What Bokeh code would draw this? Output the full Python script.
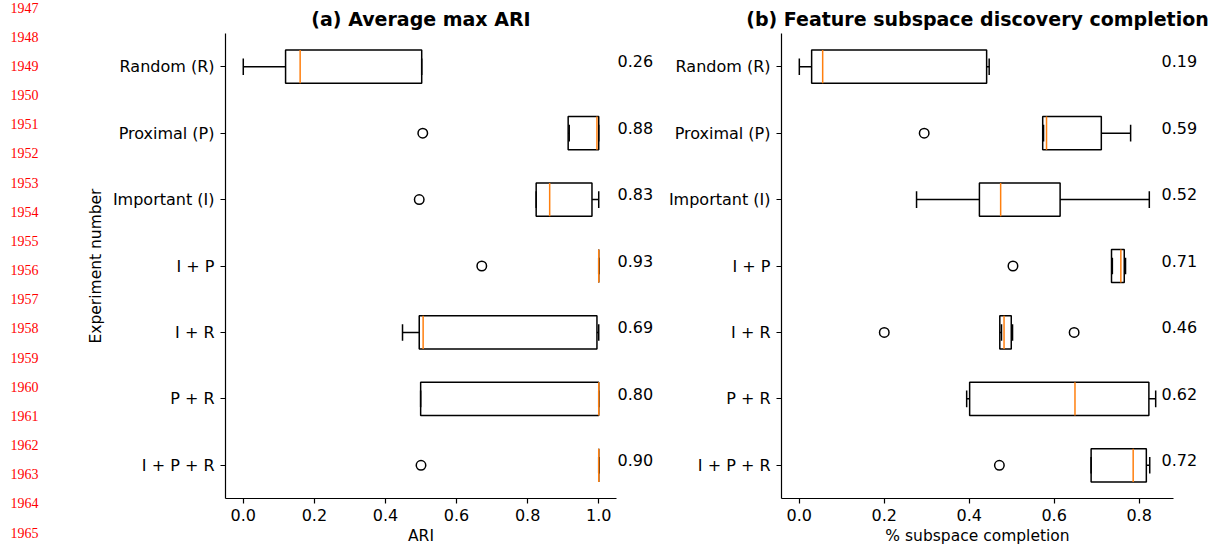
from bokeh.plotting import figure
from bokeh.layouts import row
from bokeh.models import Range1d, FixedTicker, PrintfTickFormatter, LinearAxis
from bokeh.embed import file_html
from bokeh.resources import INLINE
from bokeh.core.properties import value

experiments = ["Random (R)", "Proximal (P)", "Important (I)", "I + P", "I + R", "P + R", "I + P + R"]

# (a) Average max ARI: box-plot summary per experiment
ari_whislo = [0.0, 0.917, 0.824, 1.0, 0.448, 0.499, 1.0]
ari_q1 = [0.119, 0.914, 0.824, 1.0, 0.495, 0.499, 1.0]
ari_med = [0.160, 0.995, 0.862, 1.0, 0.506, 1.0, 1.0]
ari_q3 = [0.502, 1.0, 0.981, 1.0, 0.995, 1.0, 1.0]
ari_whishi = [0.502, 1.0, 1.0, 1.0, 1.0, 1.0, 1.0]
ari_flier_idx = [1, 2, 3, 6]
ari_flier_val = [0.505, 0.495, 0.671, 0.500]
ari_means = ["0.26", "0.88", "0.83", "0.93", "0.69", "0.80", "0.90"]

# (b) Feature subspace discovery completion
sub_whislo = [0.0, 0.575, 0.276, 0.737, 0.476, 0.394, 0.687]
sub_q1 = [0.029, 0.573, 0.424, 0.735, 0.472, 0.401, 0.687]
sub_med = [0.055, 0.582, 0.474, 0.757, 0.482, 0.649, 0.786]
sub_q3 = [0.441, 0.711, 0.614, 0.765, 0.499, 0.823, 0.817]
sub_whishi = [0.447, 0.780, 0.824, 0.768, 0.502, 0.839, 0.825]
sub_flier_idx = [1, 3, 4, 4, 6]
sub_flier_val = [0.294, 0.503, 0.200, 0.647, 0.471]
sub_means = ["0.19", "0.59", "0.52", "0.71", "0.46", "0.62", "0.72"]

ari_ticks = [0.0, 0.2, 0.4, 0.6, 0.8, 1.0]
sub_ticks = [0.0, 0.2, 0.4, 0.6, 0.8]

line_numbers = [str(n) for n in range(1947, 1966)]

FONT = "DejaVu Sans"
BOX_W = 0.5
TICK_FS = "16px"
LABEL_FS = "15.5px"


def style_axis(ax):
    ax.axis_line_color = "black"
    ax.axis_line_width = 1.2
    ax.major_tick_line_color = "black"
    ax.major_tick_line_width = 1.2
    ax.major_tick_out = 5
    ax.major_tick_in = 0
    ax.minor_tick_line_color = None
    ax.major_label_text_font = FONT
    ax.major_label_text_font_size = TICK_FS
    ax.major_label_text_color = "black"
    ax.axis_label_text_font = FONT
    ax.axis_label_text_font_size = LABEL_FS
    ax.axis_label_text_font_style = "normal"
    ax.axis_label_text_color = "black"
    ax.major_label_standoff = 5


def box_panel(title, xlabel, width, border_left, border_right, lo, q1, med, q3, hi,
              flier_idx, flier_val, means, mean_standoff, xticks, ylabel=None):
    n = len(experiments)
    ypos = [n - i for i in range(n)]
    vals = lo + hi + flier_val
    dmin, dmax = min(vals), max(vals)
    pad = 0.05 * (dmax - dmin)
    p = figure(width=width, height=547, output_backend="svg", toolbar_location=None,
               x_range=Range1d(dmin - pad, dmax + pad), y_range=Range1d(0.5, n + 0.5),
               min_border_left=border_left, min_border_right=border_right,
               min_border_top=33, min_border_bottom=49, title=title)
    p.outline_line_color = None
    p.background_fill_color = "white"
    p.border_fill_color = "white"
    p.xgrid.visible = False
    p.ygrid.visible = False

    p.title.text_font = FONT
    p.title.text_font_style = "bold"
    p.title.text_font_size = "19px"
    p.title.text_color = "black"
    p.title.align = "center"
    p.title.standoff = 8
    p.title.offset = 0

    style_axis(p.xaxis[0])
    style_axis(p.yaxis[0])

    p.xaxis.ticker = FixedTicker(ticks=xticks)
    p.xaxis.formatter = PrintfTickFormatter(format="%.1f")
    p.xaxis.axis_label = xlabel
    p.xaxis.axis_label_standoff = 3

    p.yaxis.ticker = FixedTicker(ticks=ypos)
    p.yaxis.major_label_overrides = {y: name for y, name in zip(ypos, experiments)}
    p.yaxis.major_label_standoff = 6
    if ylabel:
        p.yaxis.axis_label = ylabel
        p.yaxis.axis_label_standoff = 5

    # per-experiment summary values written beside the boxes (baseline on the box centre)
    shift = 0.08
    p.extra_y_ranges = {"means": Range1d(0.5 - shift, n + 0.5 - shift)}
    mean_axis = LinearAxis(y_range_name="means", ticker=FixedTicker(ticks=ypos),
                           major_label_overrides={y: m for y, m in zip(ypos, means)})
    style_axis(mean_axis)
    mean_axis.axis_line_color = None
    mean_axis.major_tick_line_color = None
    mean_axis.major_tick_out = 0
    mean_axis.major_label_standoff = mean_standoff
    p.add_layout(mean_axis, "right")

    half = BOX_W / 2
    cap = BOX_W / 4
    lw = 1.5
    # whiskers
    p.segment(x0=lo, y0=ypos, x1=q1, y1=ypos, line_color="black", line_width=lw)
    p.segment(x0=q3, y0=ypos, x1=hi, y1=ypos, line_color="black", line_width=lw)
    # caps
    p.segment(x0=lo, y0=[y - cap for y in ypos], x1=lo, y1=[y + cap for y in ypos],
              line_color="black", line_width=lw)
    p.segment(x0=hi, y0=[y - cap for y in ypos], x1=hi, y1=[y + cap for y in ypos],
              line_color="black", line_width=lw)
    # boxes
    p.quad(left=q1, right=q3, bottom=[y - half for y in ypos], top=[y + half for y in ypos],
           fill_color=None, line_color="black", line_width=lw)
    # medians
    p.segment(x0=med, y0=[y - half for y in ypos], x1=med, y1=[y + half for y in ypos],
              line_color="#ff7f0e", line_width=lw)
    # outliers
    p.scatter(x=flier_val, y=[ypos[i] for i in flier_idx], marker="circle", size=9.5,
              fill_color=None, line_color="black", line_width=1.5)
    return p


# margin with manuscript line numbers
margin = figure(width=70, height=547, output_backend="svg", toolbar_location=None,
                x_range=Range1d(0, 70), y_range=Range1d(18.514, -0.24),
                x_axis_location=None, y_axis_location=None,
                min_border_left=0, min_border_right=0, min_border_top=0, min_border_bottom=0)
margin.frame_align = False
margin.outline_line_color = None
margin.xgrid.visible = False
margin.ygrid.visible = False
margin.text(x=[38] * len(line_numbers), y=list(range(len(line_numbers))), text=line_numbers,
            text_align="right", text_baseline="middle", text_font=value("Liberation Serif"),
            text_font_size="14px", text_color="#ff0000")

pa = box_panel("(a) Average max ARI", "ARI", 590, 155, 44,
               ari_whislo, ari_q1, ari_med, ari_q3, ari_whishi,
               ari_flier_idx, ari_flier_val, ari_means, 1, ari_ticks,
               ylabel="Experiment number")
pb = box_panel("(b) Feature subspace discovery completion", "% subspace completion", 560, 121, 47,
               sub_whislo, sub_q1, sub_med, sub_q3, sub_whishi,
               sub_flier_idx, sub_flier_val, sub_means, -12, sub_ticks)

layout = row(margin, pa, pb, spacing=0)

with open("out.html", "w") as f:
    f.write(file_html(layout, INLINE))
